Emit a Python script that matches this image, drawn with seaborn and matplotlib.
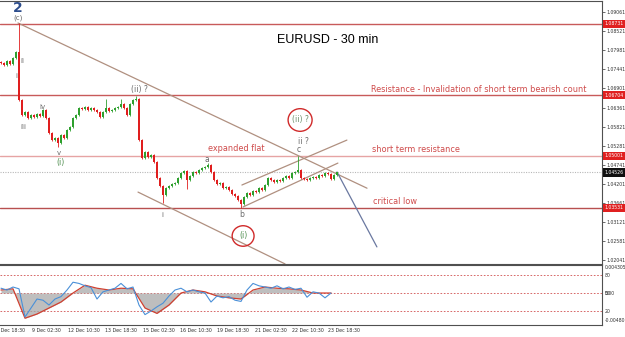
import matplotlib
matplotlib.use("Agg")
import matplotlib.pyplot as plt
import matplotlib.transforms as mtransforms
from matplotlib.patches import Ellipse
import numpy as np
import pandas as pd
import seaborn as sns

sns.set_style("white")
plt.rcParams['font.family'] = ['DejaVu Sans']

# ---------------- data ----------------
closes = [1.0762, 1.0756, 1.0768, 1.0759, 1.0776, 1.0793, 1.0657, 1.0615, 1.0623, 1.0606,
          1.0615, 1.0609, 1.0618, 1.0612, 1.0629, 1.0606, 1.0564, 1.0544, 1.0550, 1.0536,
          1.0558, 1.0550, 1.0572, 1.0581, 1.0606, 1.0615, 1.0635, 1.0632, 1.0637, 1.0629,
          1.0635, 1.0629, 1.0623, 1.0609, 1.0623, 1.0635, 1.0626, 1.0629, 1.0635, 1.0637,
          1.0646, 1.0635, 1.0615, 1.0646, 1.0657, 1.0660, 1.0544, 1.0493, 1.0510, 1.0496,
          1.0502, 1.0482, 1.0437, 1.0414, 1.0389, 1.0409, 1.0414, 1.0420, 1.0423, 1.0437,
          1.0451, 1.0457, 1.0431, 1.0443, 1.0454, 1.0451, 1.0459, 1.0465, 1.0468, 1.0474,
          1.0454, 1.0431, 1.0420, 1.0423, 1.0409, 1.0411, 1.0403, 1.0392, 1.0386, 1.0375,
          1.0363, 1.0383, 1.0394, 1.0389, 1.0400, 1.0397, 1.0409, 1.0403, 1.0417, 1.0437,
          1.0431, 1.0426, 1.0431, 1.0428, 1.0437, 1.0443, 1.0437, 1.0451, 1.0454, 1.0459,
          1.0437, 1.0434, 1.0431, 1.0437, 1.0440, 1.0437, 1.0445, 1.0443, 1.0451, 1.0448,
          1.0434, 1.0445, 1.04526]
first_open = 1.0765
spike_highs = {6: 1.0875, 35: 1.0660, 40: 1.0660, 45: 1.0669, 69: 1.0479, 99: 1.0500}
spike_lows = {19: 1.0524, 54: 1.0366, 62: 1.0406, 80: 1.0352}

level_prices = [1.08731, 1.06704, 1.05001, 1.03531]
level_labels = ["1.08731", "1.06704", "1.05001", "1.03531"]
last_price = 1.04526
last_label = "1.04526"

price_ticks = [1.09061, 1.08521, 1.07981, 1.07441, 1.06901, 1.06361, 1.05821,
               1.05281, 1.04741, 1.04201, 1.03661, 1.03121, 1.02581, 1.02041]
price_tick_labels = ["1.09061", "1.08521", "1.07981", "1.07441", "1.06901", "1.06361", "1.05821",
                     "1.05281", "1.04741", "1.04201", "1.03661", "1.03121", "1.02581", "1.02041"]

date_labels = ["8 Dec 18:30", "9 Dec 02:30", "12 Dec 10:30", "13 Dec 18:30", "15 Dec 02:30",
               "16 Dec 10:30", "19 Dec 18:30", "21 Dec 02:30", "22 Dec 10:30", "23 Dec 18:30"]
date_pos = [-1.8, 10.3, 22.3, 34.7, 47.3, 59.7, 72.0, 84.7, 97.0, 109.0]

osc_blue_x = list(range(0, 112, 2))
osc_blue = [58, 55, 60, 57, 10, 25, 40, 38, 30, 40, 44, 55, 68, 66, 62, 59, 40, 52, 55, 58,
            66, 57, 60, 30, 14, 20, 27, 33, 45, 55, 58, 52, 55, 52, 50, 35, 45, 42, 44, 38,
            36, 55, 66, 62, 60, 58, 62, 57, 60, 56, 58, 43, 52, 50, 42, 50]
osc_red_x = [0, 4, 8, 12, 16, 20, 24, 28, 32, 36, 40, 44, 48, 52, 56, 60, 64, 68, 72, 76,
             80, 84, 88, 92, 96, 100, 104, 108, 110]
osc_red = [55, 57, 8, 15, 25, 35, 50, 63, 58, 55, 58, 57, 25, 16, 30, 50, 55, 52, 45, 42,
           40, 55, 60, 58, 57, 55, 50, 50, 50]
osc_levels = [80, 50, 20]

# trend lines (index, price)
trend_lines = [
    ((5.67, 1.0875), (122.0, 1.0408), '#b09080'),
    ((45.67, 1.0397), (94.67, 1.0194), '#b09080'),
    ((80.3, 1.0417), (115.3, 1.0544), '#b09080'),
    ((80.7, 1.0355), (112.3, 1.0479), '#b09080'),
    ((112.0, 1.0454), (125.3, 1.0242), '#6a78a0'),
]

# ---------------- figure ----------------
W, H = 625, 337
fig = plt.figure(figsize=(W / 100, H / 100), dpi=100)
ax = fig.add_axes([0, 1 - 264 / H, 602 / W, 263 / H])
ax2 = fig.add_axes([0, 1 - 325 / H, 602 / W, 60 / H])

n = len(closes)
idx = np.arange(n)
c = np.array(closes)
o = np.array([first_open] + closes[:-1])
bhi = np.maximum(o, c)
blo = np.minimum(o, c)
hi = bhi + 0.00025
lo = blo - 0.00025
for k, v in spike_highs.items():
    hi[k] = v
for k, v in spike_lows.items():
    lo[k] = v
cols = np.where(c >= o, '#2ea02e', '#e01e1e')

ax.vlines(idx, lo, hi, colors=cols, lw=0.6, zorder=3)
ax.bar(idx, np.maximum(bhi - blo, 0.00012), bottom=blo, width=0.65, color=cols, zorder=4, linewidth=0)

ax.set_xlim(-1 / 3, 601 / 3)
ax.set_ylim(1.01937, 1.09372)

level_colors = ['#c85a5a', '#c85a5a', '#e6a4a4', '#b85050']
for p, col in zip(level_prices, level_colors):
    ax.axhline(p, color=col, lw=1.0, zorder=2)
ax.axhline(last_price, color='#b8b8b8', lw=0.8, ls=(0, (1, 1.2)), zorder=2)

for (x0, y0), (x1, y1), col in trend_lines:
    ax.plot([x0, x1], [y0, y1], color=col, lw=0.9, zorder=2)

# right price axis
ax.yaxis.tick_right()
ax.set_yticks(price_ticks)
ax.set_yticklabels(price_tick_labels)
ax.tick_params(axis='y', labelsize=3.3, length=2, width=0.5, pad=1.5, colors='#303030')
ax.set_xticks([])
ax.spines['left'].set_visible(False)
for s in ['top', 'right', 'bottom']:
    ax.spines[s].set_color('#505050')
    ax.spines[s].set_linewidth(0.8)

tr = mtransforms.blended_transform_factory(ax.transAxes, ax.transData)
for p, lab in zip(level_prices, level_labels):
    ax.text(1.004, p, lab, transform=tr, fontsize=3.3, color='white', va='center', ha='left',
            clip_on=False, zorder=10,
            bbox=dict(boxstyle='square,pad=0.35', fc='#e02020', ec='none'))
ax.text(1.004, last_price, last_label, transform=tr, fontsize=3.3, color='white', va='center',
        ha='left', clip_on=False, zorder=10,
        bbox=dict(boxstyle='square,pad=0.35', fc='#101010', ec='none'))

# annotations
red_txt = '#cf4a4a'
ax.text(109, 1.08269, 'EURUSD - 30 min', fontsize=9, color='black', ha='center', va='center',
        family='Liberation Sans')
ax.text(123.3, 1.06884, 'Resistance - Invalidation of short term bearish count', fontsize=5.9,
        color=red_txt, va='center', ha='left')
ax.text(123.7, 1.05160, 'short term resistance', fontsize=5.9, color=red_txt, va='center', ha='left')
ax.text(124.0, 1.03718, 'critical low', fontsize=5.9, color=red_txt, va='center', ha='left')
ax.text(69.0, 1.05216, 'expanded flat', fontsize=5.9, color=red_txt, va='center', ha='left')

gray = '#6a6a6a'
green = '#4e8e4e'
ax.text(5.67, 1.09174, '2', fontsize=10, color='#2c4c8c', ha='center', va='center', fontweight='bold')
ax.text(5.67, 1.08891, '(c)', fontsize=5, color=gray, ha='center', va='center')
ax.text(5.0, 1.07252, 'i', fontsize=5, color=gray, ha='center', va='center')
ax.text(7.0, 1.07676, 'ii', fontsize=5, color=gray, ha='center', va='center')
ax.text(7.3, 1.05810, 'iii', fontsize=5, color=gray, ha='center', va='center')
ax.text(13.7, 1.06375, 'iv', fontsize=5, color=gray, ha='center', va='center')
ax.text(19.3, 1.05075, 'v', fontsize=5, color=gray, ha='center', va='center')
ax.text(19.7, 1.04820, '(i)', fontsize=5.5, color=green, ha='center', va='center')
ax.text(46.3, 1.06856, '(ii) ?', fontsize=5.5, color=gray, ha='center', va='center')
ax.text(53.7, 1.03322, 'i', fontsize=5, color=gray, ha='center', va='center')
ax.text(68.7, 1.04905, 'a', fontsize=5.5, color=gray, ha='center', va='center')
ax.text(80.3, 1.03350, 'b', fontsize=5.5, color=gray, ha='center', va='center')
ax.text(99.3, 1.05160, 'c', fontsize=5.5, color=gray, ha='center', va='center')
ax.text(100.7, 1.05386, 'ii ?', fontsize=5.5, color=gray, ha='center', va='center')
ax.text(99.7, 1.06008, '(ii) ?', fontsize=5.5, color='#6a8e6a', ha='center', va='center')
ax.text(80.7, 1.02729, '(i)', fontsize=5.5, color=green, ha='center', va='center')
ax.add_patch(Ellipse((99.7, 1.06008), 8.0, 0.0064, fill=False, ec='#d02a2a', lw=1.0, zorder=5))
ax.add_patch(Ellipse((80.7, 1.02729), 7.3, 0.0058, fill=False, ec='#d02a2a', lw=1.0, zorder=5))

# ---------------- oscillator ----------------
ax2.set_xlim(-1 / 3, 601 / 3)
ax2.set_ylim(-3.3, 96.7)
for lv in osc_levels:
    ax2.axhline(lv, color='#d05050', lw=0.6, ls=(0, (2, 2)), zorder=1)
red_arr = np.array(osc_red, dtype=float)
ax2.fill_between(osc_red_x, red_arr, 50, color='#a8a8a8', alpha=0.75, lw=0, zorder=2)
bdf = pd.DataFrame({'x': osc_blue_x, 'v': osc_blue})
rdf = pd.DataFrame({'x': osc_red_x, 'v': osc_red})
sns.lineplot(data=rdf, x='x', y='v', ax=ax2, color='#d04030', lw=0.9, zorder=3)
sns.lineplot(data=bdf, x='x', y='v', ax=ax2, color='#4a90d8', lw=0.8, zorder=4)
ax2.set_xlabel('')
ax2.set_ylabel('')
ax2.set_yticks([])
ax2.set_xticks(date_pos[1:])
ax2.set_xticklabels([])
ax2.tick_params(axis='x', length=2, width=0.5, colors='#303030')
ax2.spines['left'].set_visible(False)
for s in ['top', 'right', 'bottom']:
    ax2.spines[s].set_color('#505050')
    ax2.spines[s].set_linewidth(0.8)

tr2 = mtransforms.blended_transform_factory(ax2.transData, ax2.transAxes)
for pos, lab in zip(date_pos, date_labels):
    ax2.text(pos, -0.05, lab, transform=tr2, fontsize=3.4, color='#303030', ha='left', va='top',
             clip_on=False)

tr3 = mtransforms.blended_transform_factory(ax2.transAxes, ax2.transData)
osc_right = [(93, '0.004305'), (80, '80'), (50, '50'), (50, '0.00'), (20, '20'), (5, '-0.00480')]
for v, lab in osc_right:
    ax2.text(1.004, v, lab, transform=tr3, fontsize=3.3, color='#303030', ha='left', va='center',
             clip_on=False)

fig.savefig('out.png', dpi=100)
